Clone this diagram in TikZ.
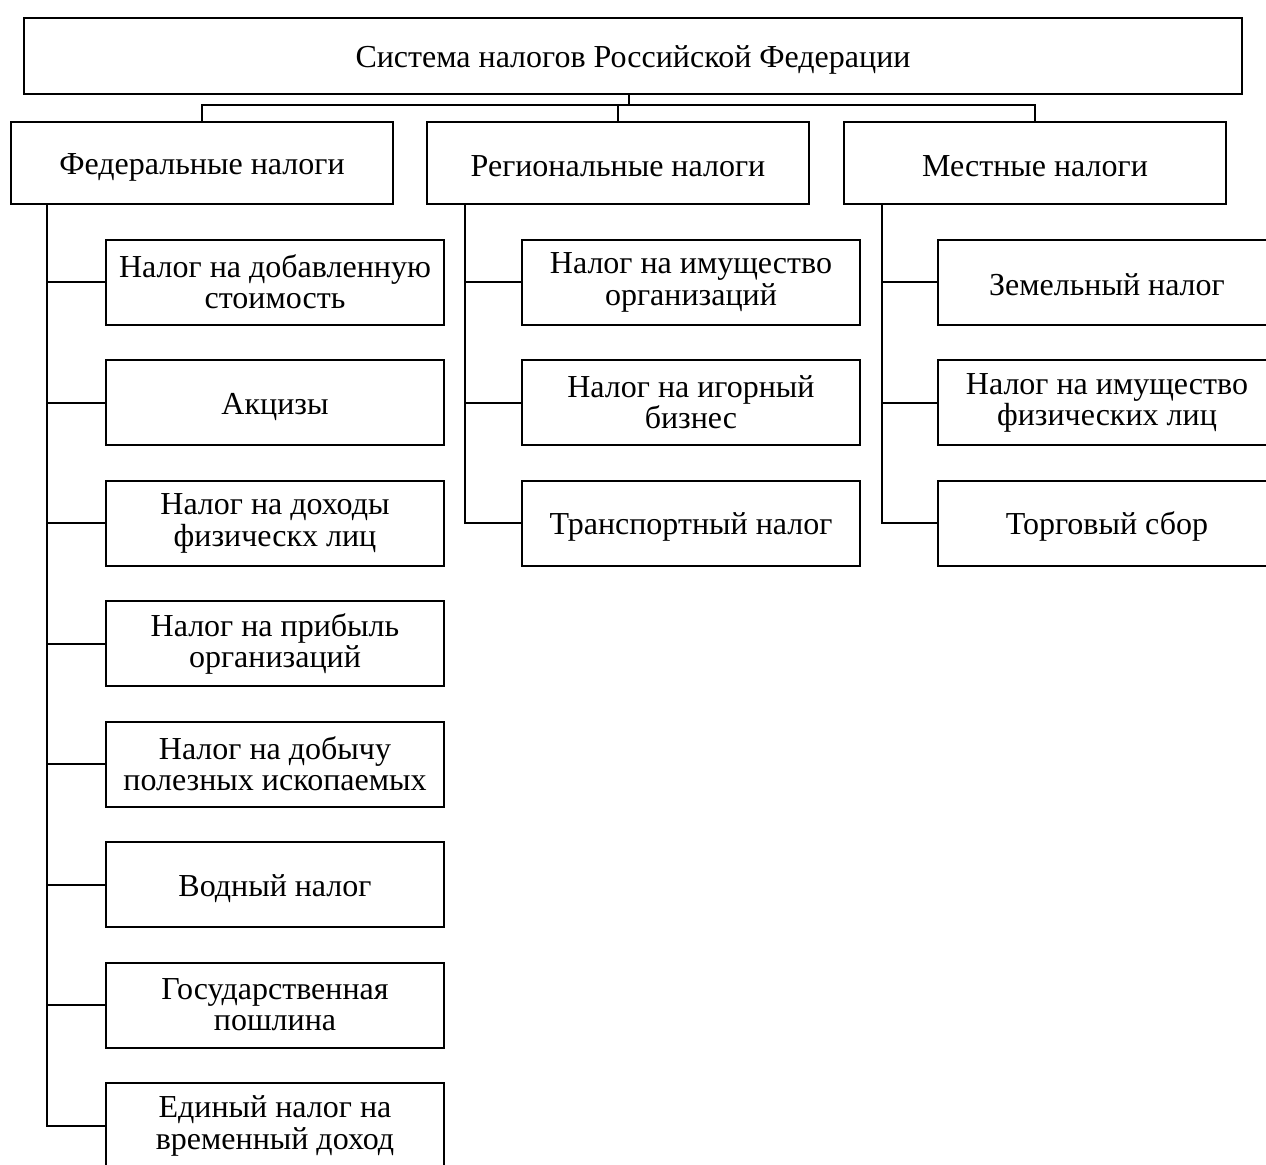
\documentclass[tikz,border=0pt]{standalone}
\usepackage{fontspec}
\setmainfont{Liberation Serif}
\newcommand{\mystrutA}{\rule[-1.25pt]{0pt}{15.8pt}}
\begin{document}
\begin{tikzpicture}[x=0.5pt,y=-0.5pt,
  box/.style={draw,line width=1pt,inner sep=0pt,align=center,font=\fontsize{16}{15.6}\selectfont,
    execute at begin node=\mystrutA, execute at end node=\mystrutA},
  topbox/.style={box,minimum width=609pt,minimum height=38pt},
  midbox/.style={box,minimum width=191pt,minimum height=41pt},
  leafbox/.style={box,minimum width=169pt,minimum height=42.5pt},
  conn/.style={line width=1pt}]
\useasboundingbox (0,0) rectangle (1266,1165);
\clip (0,0) rectangle (1266,1165);
\node[topbox] (top) at (633,56) {Система налогов Российской Федерации};
\node[midbox] (fed) at (202,163) {Федеральные налоги};
\node[midbox] (reg) at (618,163) {Региональные налоги};
\node[midbox] (loc) at (1035,163) {Местные налоги};
\node[leafbox] (f1) at (275,282.5) {Налог на добавленную\\стоимость};
\node[leafbox] (f2) at (275,403) {Акцизы};
\node[leafbox] (f3) at (275,523.5) {Налог на доходы\\физическх лиц};
\node[leafbox] (f4) at (275,644) {Налог на прибыль\\организаций};
\node[leafbox] (f5) at (275,764.5) {Налог на добычу\\полезных ископаемых};
\node[leafbox] (f6) at (275,885) {Водный налог};
\node[leafbox] (f7) at (275,1005.5) {Государственная\\пошлина};
\node[leafbox] (f8) at (275,1126) {Единый налог на\\временный доход};
\node[leafbox] (r1) at (691,282.5) {Налог на имущество\\организаций};
\node[leafbox] (r2) at (691,403) {Налог на игорный\\бизнес};
\node[leafbox] (r3) at (691,523.5) {Транспортный налог};
\node[leafbox] (l1) at (1107,282.5) {Земельный налог};
\node[leafbox] (l2) at (1107,403) {Налог на имущество\\физических лиц};
\node[leafbox] (l3) at (1107,523.5) {Торговый сбор};
\coordinate (bus) at (629,105);
\coordinate (fs) at (47,204);
\coordinate (rs) at (465,204);
\coordinate (ls) at (882,204);
\draw[conn] (top.south -| bus) -- (bus);
\draw[conn] (fed.north) |- (bus) -| (loc.north);
\draw[conn] (reg.north) -- (reg.north |- bus);
\draw[conn] (fs) |- (f8.west);
\foreach \n in {f1,f2,f3,f4,f5,f6,f7} \draw[conn] (\n.west) -- (\n.west -| fs);
\draw[conn] (rs) |- (r3.west);
\foreach \n in {r1,r2} \draw[conn] (\n.west) -- (\n.west -| rs);
\draw[conn] (ls) |- (l3.west);
\foreach \n in {l1,l2} \draw[conn] (\n.west) -- (\n.west -| ls);
\end{tikzpicture}
\end{document}
